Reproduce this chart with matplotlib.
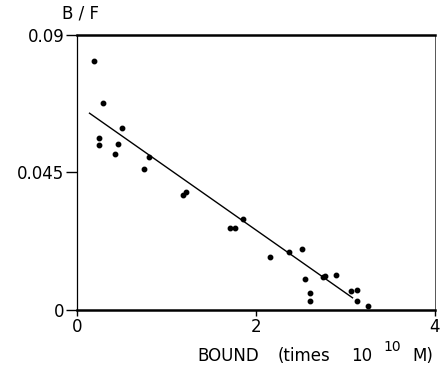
import matplotlib
matplotlib.use('Agg')
from matplotlib import pyplot as plt

plt.rcParams['font.family'] = ['DejaVu Sans']

bound = [0.19, 0.29, 0.25, 0.25, 0.50, 0.46, 0.42, 0.80, 0.75, 1.18, 1.22,
         1.71, 1.77, 1.86, 2.16, 2.37, 2.51, 2.55, 2.61, 2.61, 2.77, 2.75,
         2.89, 3.06, 3.13, 3.13, 3.25]
bf = [0.0815, 0.0678, 0.0562, 0.0540, 0.0595, 0.0544, 0.0510, 0.0502, 0.0460,
      0.0376, 0.0387, 0.0269, 0.0269, 0.0299, 0.0172, 0.0189, 0.0199, 0.0102,
      0.0056, 0.0029, 0.0112, 0.0109, 0.0115, 0.0062, 0.0064, 0.0029, 0.0014]

fit_x = [0.14, 3.08]
fit_y = [0.0644, 0.0040]

xticks = [0, 2, 4]
yticks = [0, 0.045, 0.09]
yticklabels = ['0', '0.045', '0.09']

fig = plt.figure(figsize=(4.41, 3.71), dpi=100)
ax = fig.add_axes([0.1746, 0.1644, 0.8114, 0.7413])

ax.plot(bound, bf, 'o', color='black', markersize=3.2)
ax.plot(fit_x, fit_y, color='black', linewidth=1.0)

ax.set_xlim(0, 4)
ax.set_ylim(0, 0.09)
ax.set_xticks(xticks)
ax.set_xticklabels([str(t) for t in xticks])
ax.set_yticks(yticks)
ax.set_yticklabels(yticklabels)
ax.tick_params(direction='out', width=1, labelsize=12)
ax.tick_params(axis='y', length=8, pad=1)
ax.tick_params(axis='x', length=4, pad=2)

ax.spines['top'].set_linewidth(1.8)
ax.spines['bottom'].set_linewidth(1.8)
ax.spines['left'].set_linewidth(0.9)
ax.spines['right'].set_linewidth(0.7)
ax.spines['right'].set_color('#555555')

# axis titles, placed like the original scan
fig.text(80 / 441, 1 - 14 / 371, 'B / F', fontsize=12, va='center', ha='center')
fig.text(197 / 441, 1 - 356 / 371, 'BOUND', fontsize=12, va='center', ha='left')
fig.text(278 / 441, 1 - 356 / 371, '(times', fontsize=12, va='center', ha='left')
fig.text(351 / 441, 1 - 356 / 371, '10', fontsize=12, va='center', ha='left')
fig.text(383 / 441, 1 - 347 / 371, '10', fontsize=10, va='center', ha='left')
fig.text(412 / 441, 1 - 356 / 371, 'M)', fontsize=12, va='center', ha='left')

fig.savefig('out.png', dpi=100)
